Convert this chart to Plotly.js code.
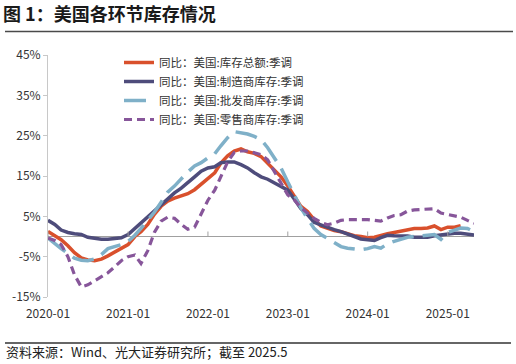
<!DOCTYPE html>
<html>
<head>
<meta charset="utf-8">
<script src="https://cdn.plot.ly/plotly-3.0.1.min.js"></script>
<style>
html,body{margin:0;padding:0;background:#fff;}
#chart{width:516px;height:364px;}
</style>
</head>
<body>
<div id="chart"></div>
<script>
// ---- data (monthly, YoY %) ----
const startYear = 2020;
const seriesNames = [
  '同比：美国:库存总额:季调',
  '同比：美国:制造商库存:季调',
  '同比：美国:批发商库存:季调',
  '同比：美国:零售商库存:季调'
];
// 2020-01 .. 2025-03
const totalInv = [1.25,0.3,-0.8,-2.3,-4.0,-5.3,-5.8,-6.0,-5.6,-4.8,-3.8,-3.0,
  -2.0,0.0,1.2,3.0,5.5,7.5,8.8,9.5,10.0,10.6,11.6,13.0,
  14.5,15.8,18.2,20.0,21.2,21.7,21.0,20.6,19.8,18.2,16.7,14.8,
  12.5,10.0,7.5,6.2,4.2,2.6,2.0,1.5,1.2,0.6,0.2,0.0,
  -0.3,-0.2,0.3,0.7,1.0,1.3,1.8,2.0,2.0,2.1,2.6,1.7,
  2.3,2.3,2.7];
// 2020-01 .. 2025-05
const mfgInv = [4.0,3.0,1.6,1.0,0.7,0.5,-0.2,-0.5,-0.7,-0.7,-0.5,-0.3,
  0.5,2.0,3.5,5.0,6.5,8.0,9.2,10.8,12.0,13.5,14.8,16.2,
  17.0,17.3,18.3,18.5,18.5,17.8,17.0,15.8,14.8,14.2,13.3,12.5,
  11.5,9.2,7.0,5.4,3.5,2.9,2.2,1.7,1.2,0.5,0.0,-0.6,
  -0.9,-1.0,-0.3,0.3,0.2,0.2,0.1,-0.2,-0.2,-0.2,0.2,0.4,
  0.7,0.8,0.8,0.6,0.4];
const wholesaleInv = [-0.4,-1.8,-3.0,-4.2,-5.4,-5.9,-6.0,-5.6,-4.5,-3.0,-2.6,-2.0,
  -1.2,0.3,2.0,4.0,6.0,8.5,11.0,12.5,14.3,16.0,17.5,18.3,
  19.5,20.5,22.5,24.5,26.0,25.7,25.4,24.8,24.0,22.0,19.5,17.0,
  13.5,10.0,7.2,4.5,2.0,0.5,-0.4,-1.5,-2.5,-2.9,-3.2,-3.3,
  -3.0,-2.5,-2.9,-1.8,-1.2,-0.6,-0.2,0.0,0.2,0.4,0.5,-0.7,
  1.0,1.6,2.1,2.0,1.2];
const retailInv = [-0.4,-1.0,-2.0,-5.0,-9.5,-12.5,-12.0,-11.0,-10.0,-9.0,-7.5,-6.0,
  -5.0,-4.6,-6.7,-3.5,1.0,3.8,4.8,4.5,3.0,1.8,2.3,5.5,
  9.0,11.5,15.0,18.5,20.8,21.2,21.2,20.8,20.3,19.0,16.0,13.0,
  10.3,9.0,7.2,5.8,4.5,3.5,2.9,3.3,4.0,4.2,4.2,4.2,
  4.2,4.0,3.8,4.6,5.2,5.4,6.3,6.6,6.7,6.8,6.9,5.8,
  5.5,5.1,4.8,4.0,3.3];
const yTickVals = [-15,-5,5,15,25,35,45];
const yTickText = ['-15%','-5%','5%','15%','25%','35%','45%'];
const xTickVals = ['2020-01-01','2021-01-01','2022-01-01','2023-01-01','2024-01-01','2025-01-01'];
const xTickText = ['2020-01','2021-01','2022-01','2023-01','2024-01','2025-01'];
const titleText = '图 1：美国各环节库存情况';
const sourceText = '资料来源：Wind、光大证券研究所；截至 2025.5';

function monthDates(n){
  const out=[];
  for(let i=0;i<n;i++){
    const y=startYear+Math.floor(i/12), m=(i%12)+1;
    out.push(y+'-'+String(m).padStart(2,'0')+'-01');
  }
  return out;
}

// ---- layout helpers: paper = whole figure, plot area set by axis domains ----
const W=516,H=364;
const px=X=>X/W;
const py=Y=>1-Y/H;
const plotL=48, plotR=474, plotT=55, plotB=297;

const font='Noto Sans CJK SC, Noto Sans, sans-serif';
const colors=['#D9502C','#4E4C7B','#7FB0C8','#87569A'];
const dashes=['solid','solid','22px,9px','8px,5px'];
const widths=[3.5,3.5,3.5,3.2];
const vals=[totalInv,mfgInv,wholesaleInv,retailInv];

const traces=vals.map((v,i)=>({
  type:'scatter',mode:'lines',name:seriesNames[i],
  x:monthDates(v.length),y:v,
  line:{color:colors[i],width:widths[i],dash:dashes[i]}
}));

const range=['2020-01-01','2025-05-01'];
const xdom=[px(plotL),px(plotR)], ydom=[py(plotB),py(plotT)];

const shapes=[
  {type:'line',xref:'paper',yref:'paper',x0:px(5),x1:px(513),y0:py(31.5),y1:py(31.5),line:{color:'#4a4a4a',width:1.6}},
  {type:'line',xref:'paper',yref:'paper',x0:px(5),x1:px(511),y0:py(343),y1:py(343),line:{color:'#333333',width:1.3}}
];
// small upward tick marks on the zero line at each year tick
xTickVals.forEach(v=>shapes.push({type:'line',xref:'x',yref:'y',ysizemode:'pixel',yanchor:0,
  x0:v,x1:v,y0:0,y1:5,line:{color:'#A0A0A0',width:1}}));

const layout={
  width:W,height:H,
  margin:{l:0,r:0,t:0,b:0},
  paper_bgcolor:'#fff',plot_bgcolor:'#fff',
  font:{family:font,size:12,color:'#333'},
  title:{text:'<b>'+titleText+'</b>',xref:'container',yref:'container',x:3/W,xanchor:'left',y:1-15/H,yanchor:'middle',
    font:{family:font,size:18,color:'#1a1a1a'}},
  showlegend:true,
  legend:{x:px(119),y:py(48),xanchor:'left',yanchor:'top',bgcolor:'rgba(0,0,0,0)',
    font:{family:font,size:11.5,color:'#333'}},
  xaxis:{domain:xdom,type:'date',range:range,showgrid:false,zeroline:false,showline:false,
    ticks:'outside',ticklen:6,tickcolor:'rgba(0,0,0,0)',
    tickvals:xTickVals,ticktext:xTickText,tickfont:{size:12,color:'#333'}},
  yaxis:{domain:ydom,range:[-15,45],showgrid:false,zeroline:true,zerolinecolor:'#A0A0A0',zerolinewidth:1.5,
    showline:true,linecolor:'#C8C8C8',linewidth:1,ticks:'outside',ticklen:4,tickcolor:'#C8C8C8',
    tickvals:yTickVals,ticktext:yTickText,tickfont:{size:12,color:'#333'}},
  shapes:shapes,
  annotations:[
    {text:sourceText,xref:'paper',yref:'paper',x:px(4),y:py(351),xanchor:'left',yanchor:'middle',showarrow:false,
      font:{family:font,size:13,color:'#222'}}
  ]
};
Plotly.newPlot('chart',traces,layout,{displayModeBar:false,staticPlot:true});
</script>
</body>
</html>
